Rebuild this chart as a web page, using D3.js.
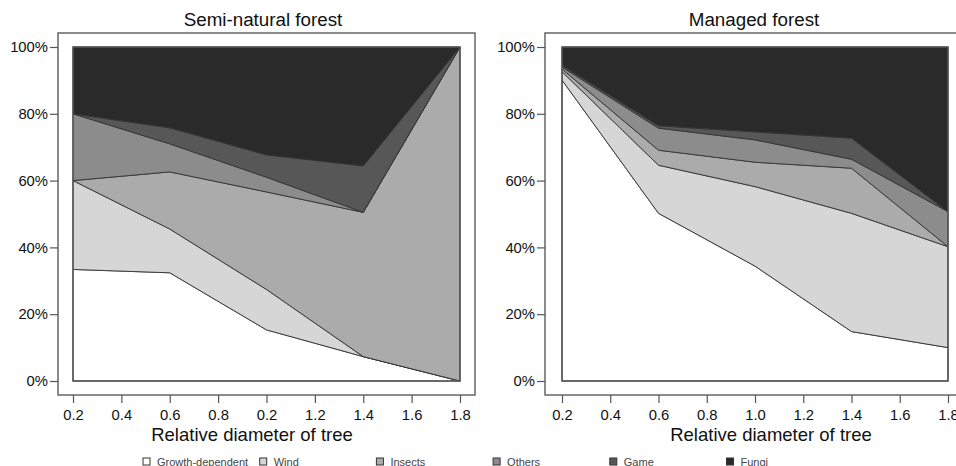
<!doctype html>
<html lang="en">
<head>
  <meta charset="utf-8">
  <style>
    body { margin: 0; background: #fff; }
    svg text { font-family: "Liberation Sans", Arial, sans-serif; fill: #111; }
    .tick text { font-size: 14.8px; }
    .tick line { stroke: #555; stroke-width: 1.2; }
  </style>
</head>
<body>
  <script src="https://d3js.org/d3.v7.min.js"></script>
  <div id="chart"></div>
  <script>
  // categories (x positions of observations)
  var diameters = [0.2, 0.6, 1.0, 1.4, 1.8];
  var series = ["Growth-dependent", "Wind", "Insects", "Others", "Game", "Fungi"];
  var fills = ["#ffffff", "#d6d6d6", "#ababab", "#8c8c8c", "#575757", "#2a2a2a"];

  // semi-natural forest, percent per cause
  var semiGrowth  = [33.4, 32.4, 15.3, 7.3, 0];
  var semiWind    = [26.6, 13.1, 12.1, 0, 0];
  var semiInsects = [0, 17.1, 29.2, 43.2, 100];
  var semiOthers  = [20, 8.4, 4.4, 0, 0];
  var semiGame    = [0, 4.8, 6.7, 13.9, 0];
  var semiFungi   = [20, 24.2, 32.3, 35.6, 0];

  // managed forest, percent per cause
  var manGrowth  = [90.1, 50.2, 34.4, 14.8, 10];
  var manWind    = [2.5, 14.4, 23.8, 35.4, 30.2];
  var manInsects = [0.8, 4.5, 7.3, 13.5, 0];
  var manOthers  = [0.6, 6.6, 6.7, 2.7, 10.5];
  var manGame    = [0.5, 0.7, 2.4, 6.3, 0];
  var manFungi   = [5.5, 23.6, 25.4, 27.3, 49.3];

  // tick labels (left panel prints 0.2 where 1.0 belongs)
  var xTicks = [0.2, 0.4, 0.6, 0.8, 1.0, 1.2, 1.4, 1.6, 1.8];
  var semiTickLabels = ["0.2", "0.4", "0.6", "0.8", "0.2", "1.2", "1.4", "1.6", "1.8"];
  var manTickLabels  = ["0.2", "0.4", "0.6", "0.8", "1.0", "1.2", "1.4", "1.6", "1.8"];
  var yTicks = [0, 20, 40, 60, 80, 100];

  var width = 956, height = 466;
  var svg = d3.select("#chart").append("svg")
      .attr("width", width)
      .attr("height", height);

  function buildRows(cols) {
    return diameters.map(function(d, i) {
      var row = {x: d};
      series.forEach(function(s, j) { row[s] = cols[j][i]; });
      return row;
    });
  }

  function panel(opt) {
    var x = d3.scaleLinear().domain([0.2, 1.8]).range([opt.left, opt.right]);
    var y = d3.scaleLinear().domain([0, 100]).range([381, 47]);
    var g = svg.append("g");

    // outer frame
    g.append("rect")
     .attr("x", opt.boxLeft).attr("y", 33)
     .attr("width", opt.boxRight - opt.boxLeft).attr("height", 362)
     .attr("fill", "none").attr("stroke", "#666").attr("stroke-width", 1.5);

    var stacked = d3.stack().keys(series)(buildRows(opt.cols));
    var area = d3.area()
        .x(function(d) { return x(d.data.x); })
        .y0(function(d) { return y(d[0]); })
        .y1(function(d) { return y(d[1]); });

    g.selectAll("path.layer")
     .data(stacked)
     .enter()
     .append("path")
     .attr("class", "layer")
     .attr("d", area)
     .attr("fill", function(d, i) { return fills[i]; })
     .attr("stroke", "#333")
     .attr("stroke-width", 0.9)
     .attr("stroke-linejoin", "round");

    // plot area border
    g.append("rect")
     .attr("x", x(0.2)).attr("y", y(100))
     .attr("width", x(1.8) - x(0.2)).attr("height", y(0) - y(100))
     .attr("fill", "none").attr("stroke", "#555").attr("stroke-width", 1.5);

    var xAxis = g.append("g")
     .attr("transform", "translate(0,395)")
     .call(d3.axisBottom(x).tickValues(xTicks).tickSize(8).tickPadding(6)
       .tickFormat(function(d, i) { return opt.tickLabels[i]; }));
    xAxis.select(".domain").remove();

    var yAxis = g.append("g")
     .attr("transform", "translate(" + opt.boxLeft + ",0)")
     .call(d3.axisLeft(y).tickValues(yTicks).tickSize(8).tickPadding(2)
       .tickFormat(function(d) { return d + "%"; }));
    yAxis.select(".domain").remove();

    g.append("text")
     .attr("x", opt.titleX)
     .attr("y", 26)
     .attr("text-anchor", "middle")
     .style("font-size", "18.8px")
     .text(opt.title);

    g.append("text")
     .attr("x", opt.labelX)
     .attr("y", 441)
     .attr("text-anchor", "middle")
     .style("font-size", "18.5px")
     .text("Relative diameter of tree");
  }

  panel({
    title: "Semi-natural forest", titleX: 263, labelX: 252,
    left: 73, right: 460, boxLeft: 58, boxRight: 475,
    cols: [semiGrowth, semiWind, semiInsects, semiOthers, semiGame, semiFungi],
    tickLabels: semiTickLabels
  });

  panel({
    title: "Managed forest", titleX: 754, labelX: 771,
    left: 562, right: 948, boxLeft: 545, boxRight: 970,
    cols: [manGrowth, manWind, manInsects, manOthers, manGame, manFungi],
    tickLabels: manTickLabels
  });

  // legend
  var legend = svg.append("g").selectAll("g")
      .data(series)
      .enter()
      .append("g")
      .attr("transform", function(d, i) { return "translate(" + (143 + i * 116.7) + ",458)"; });

  legend.append("rect")
      .attr("width", 7).attr("height", 7)
      .attr("fill", function(d, i) { return fills[i]; })
      .attr("stroke", "#333").attr("stroke-width", 1);

  legend.append("text")
      .attr("x", 14).attr("y", 7.5)
      .style("font-size", "11px")
      .style("fill", "#444")
      .text(function(d) { return d; });
  </script>
</body>
</html>
